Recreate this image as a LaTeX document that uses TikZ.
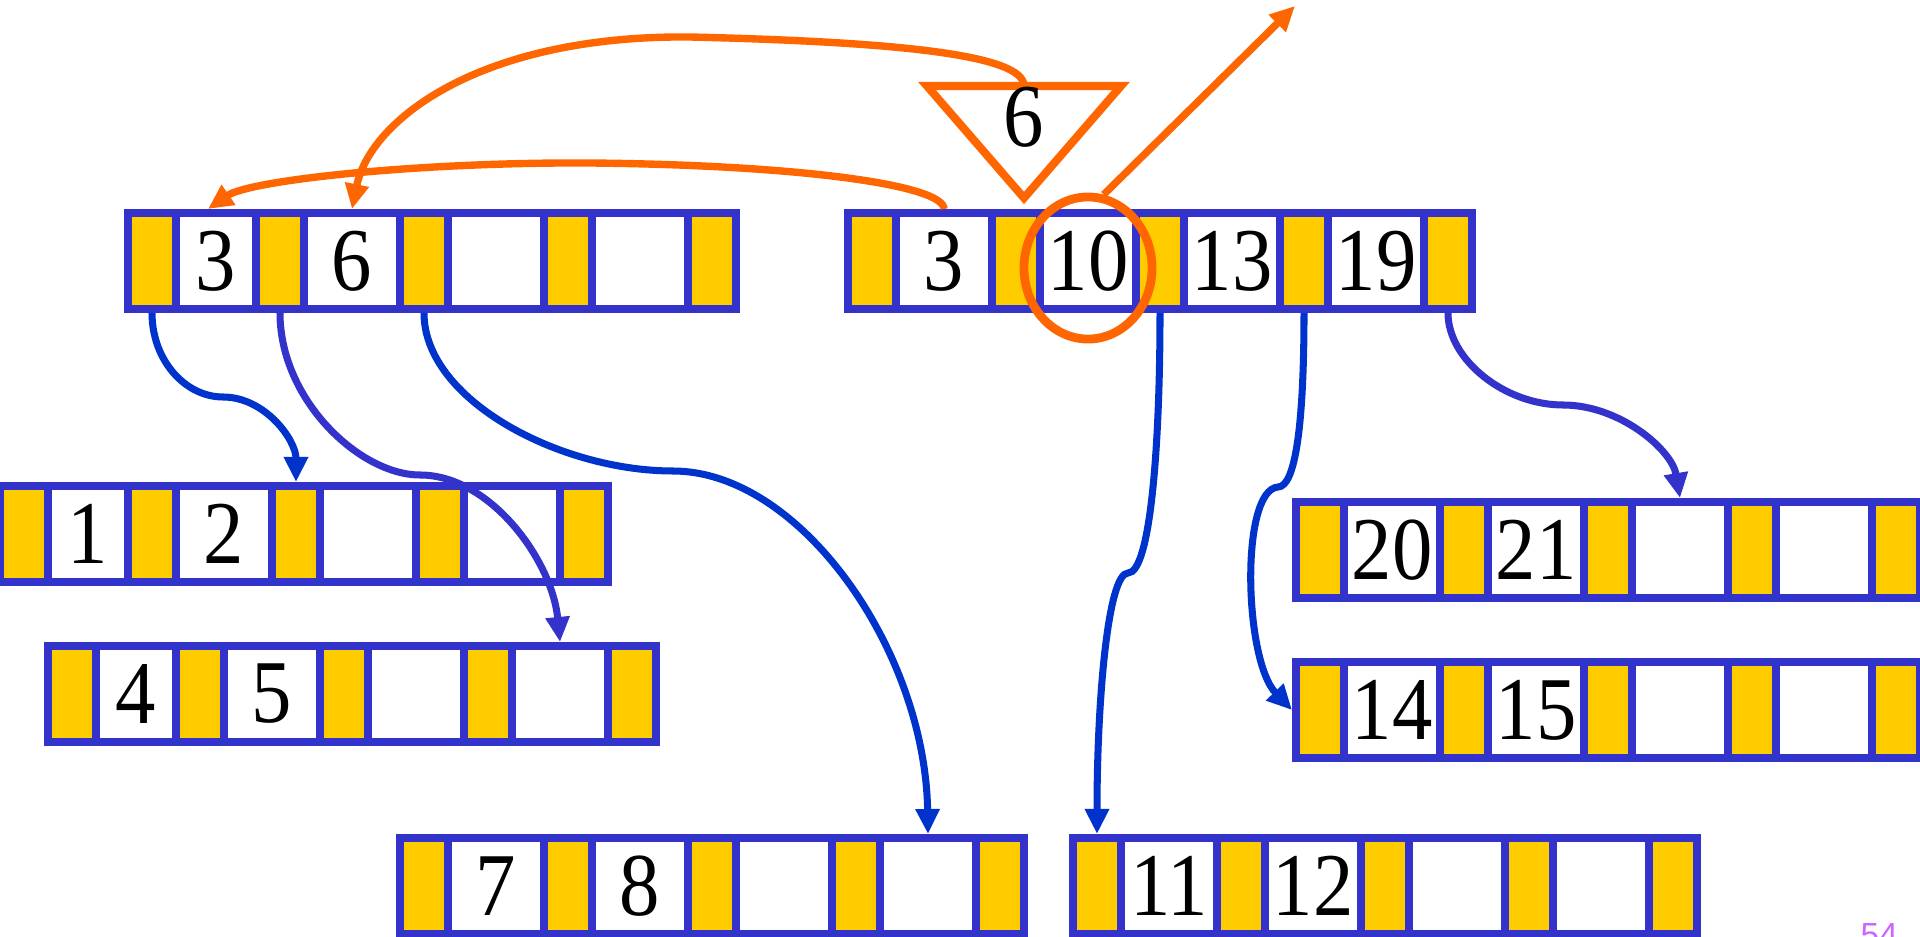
\documentclass[tikz,border=0pt]{standalone}
\usepackage{fontspec}
\setmainfont{Liberation Serif}
\newfontfamily\keyfam[FakeStretch=0.9]{Liberation Serif}
\newfontfamily\pagefont{Liberation Sans}
\usetikzlibrary{arrows.meta,calc,shapes.geometric}

\definecolor{framecol}{HTML}{3333CC}
\definecolor{keyyellow}{HTML}{FFCC00}
\definecolor{ptrblue}{HTML}{0033CC}
\definecolor{hiorange}{HTML}{FF6600}
\definecolor{pagecol}{HTML}{CC66FF}

\newcommand{\keyfont}{\keyfam\fontsize{25.5}{30}\selectfont}

\tikzset{
  btframe/.style={fill=framecol, anchor=north west, minimum height=1.04cm, inner sep=0pt, outer sep=0pt},
  ptrcell/.style={fill=keyyellow, anchor=north west, minimum width=0.4cm, minimum height=0.88cm, inner sep=0pt, outer sep=0pt},
  keycell/.style={fill=white, anchor=north west, minimum width=0.88cm, minimum height=0.88cm, inner sep=0pt, outer sep=0pt, font=\keyfont},
  tipped/.style={-{Triangle[length=0.25cm,width=0.23cm]}},
  bluelink/.style={draw=ptrblue, line width=2pt, tipped},
  violetlink/.style={draw=framecol, line width=2pt, tipped},
  hiline/.style={draw=hiorange, line width=2.1pt},
  selring/.style={draw=hiorange, line width=2.5pt, ellipse, minimum width=1.28cm, minimum height=1.42cm, inner sep=0pt}
}

% name, x, y, width of first key cell, four keys
\newcommand{\btnode}[8]{%
  \node[btframe, minimum width={(544+#4)*0.01cm}] (#1) at (#2,#3) {};
  \node[ptrcell] (#1-y1) at (#2+8,#3+8) {};
  \node[keycell, minimum width={#4*0.01cm}] (#1-k1) at (#2+56,#3+8) {#5};
  \node[ptrcell] (#1-y2) at (#2+64+#4,#3+8) {};
  \node[keycell] (#1-k2) at (#2+112+#4,#3+8) {#6};
  \node[ptrcell] (#1-y3) at (#2+208+#4,#3+8) {};
  \node[keycell] (#1-k3) at (#2+256+#4,#3+8) {#7};
  \node[ptrcell] (#1-y4) at (#2+352+#4,#3+8) {};
  \node[keycell] (#1-k4) at (#2+400+#4,#3+8) {#8};
  \node[ptrcell] (#1-y5) at (#2+496+#4,#3+8) {};
}

\begin{document}
\begin{tikzpicture}[x=0.01cm,y=-0.01cm]
\useasboundingbox (0,0) rectangle (1920,937);

\btnode{A}{124}{209}{72}{3}{6}{}{}
\btnode{B}{844}{209}{88}{3}{10}{13}{19}
\btnode{C}{-4}{482}{72}{1}{2}{}{}
\btnode{D}{44}{642}{72}{4}{5}{}{}
\btnode{E}{1292}{498}{88}{20}{21}{}{}
\btnode{F}{1292}{658}{88}{14}{15}{}{}
\btnode{G}{396}{834}{88}{7}{8}{}{}
\btnode{H}{1069}{834}{88}{11}{12}{}{}

% pointers
\draw[bluelink] (A-y1 |- A.south) .. controls (152,360) and (185,397) .. (223,397) .. controls (265,397) and (296,440) .. (C-y3 |- C.north);
\draw[violetlink] (A-y2 |- A.south) .. controls (280,400) and (360,475) .. (420,475) .. controls (490,475) and (552,560) .. (D-k4 |- D.north);
\draw[bluelink] (A-y3 |- A.south) .. controls (424,400) and (560,471) .. (673,471) .. controls (800,471) and (925,650) .. (G-k4 |- G.north);
\draw[bluelink] (B-y3 |- B.south) .. controls (1160,450) and (1150,573) .. (1128,573) .. controls (1108,573) and (1097,700) .. (H-y1 |- H.north);
\draw[bluelink] (B-y4 |- B.south) .. controls (1304,420) and (1296,487) .. (1278,487) .. controls (1240,490) and (1244,660) .. (F.west);
\draw[violetlink] (B-y5 |- B.south) .. controls (1448,360) and (1505,405) .. (1563,405) .. controls (1620,405) and (1672,450) .. (E-k3 |- E.north);

% split key
\draw[hiline, line width=2.3pt, line join=miter] (927,86) -- (1121,86) -- (1024,198) -- cycle;
\node[font=\keyfont, inner sep=0pt] (piv) at (1024,117) {6};
\coordinate (tritop) at (1024,86);
\node[selring] (sel) at ($(B-k2.center)+(0,7)$) {};
\coordinate (exit) at (1295,6);
\draw[hiline, tipped] (tritop) .. controls (1024,55) and (900,42) .. (690,37) .. controls (480,35) and (370,120) .. (A-k2 |- A.north);
\draw[hiline, tipped] (B-k1 |- B.north) .. controls (944,185) and (800,165) .. (590,163) .. controls (420,162) and (250,180) .. ($(A-k1 |- A.north)+(-8,0)$);
\draw[hiline, tipped] (sel.78) -- (exit);

\node[font=\pagefont\fontsize{9.5}{11}\selectfont, text=pagecol, anchor=base west, inner sep=0pt] (pg) at (1860,946) {54};
\end{tikzpicture}
\end{document}
